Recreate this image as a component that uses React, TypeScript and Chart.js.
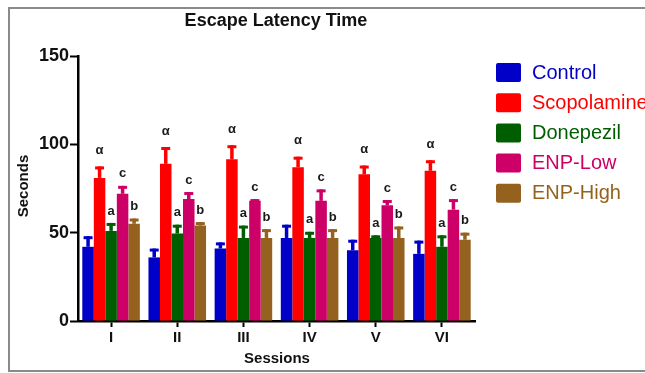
import { useEffect, useRef } from 'react';
import { Chart, registerables } from 'chart.js';

Chart.register(...registerables);

const sessions = ['I', 'II', 'III', 'IV', 'V', 'VI'];
const groups = ['Control', 'Scopolamine', 'Donepezil', 'ENP-Low', 'ENP-High'];
const groupColors = ['#0000C8', '#FF0000', '#005E00', '#CC0066', '#94621E'];

// Mean escape latency (s) and SEM per session
const controlMean = [42, 36, 41, 47, 40, 38];
const controlSem = [6, 5, 3.5, 7.5, 6, 7.5];
const scopolamineMean = [81, 89, 91.5, 87, 83, 85];
const scopolamineSem = [6.5, 9.5, 8, 6, 5, 6];
const donepezilMean = [51, 49.5, 47, 47, 47, 42];
const donepezilSem = [4.5, 5, 7, 3.5, 1.5, 6.5];
const enpLowMean = [72, 69, 68, 68, 65.5, 63];
const enpLowSem = [4.5, 4, 1, 6.5, 3, 6];
const enpHighMean = [55, 54, 47, 47, 47, 46];
const enpHighSem = [3, 2, 5, 5, 6.5, 4];

// Significance marks shown above each group's error bar
const significance = ['', 'α', 'a', 'c', 'b'];
const yTicks = [0, 50, 100, 150];

const means = [controlMean, scopolamineMean, donepezilMean, enpLowMean, enpHighMean];
const sems = [controlSem, scopolamineSem, donepezilSem, enpLowSem, enpHighSem];

const FONT = '"Liberation Sans", Arial, sans-serif';

const decorations = {
  id: 'decorations',
  beforeDraw(chart: any) {
    const { ctx } = chart;
    ctx.save();
    ctx.fillStyle = '#ffffff';
    ctx.fillRect(0, 0, chart.width, chart.height);
    // frame (open on the right)
    ctx.strokeStyle = '#8a8a8a';
    ctx.lineWidth = 2;
    ctx.beginPath();
    ctx.moveTo(chart.width + 2, 8);
    ctx.lineTo(9, 8);
    ctx.lineTo(9, 371);
    ctx.lineTo(chart.width + 2, 371);
    ctx.stroke();
    ctx.restore();
  },
  afterDatasetsDraw(chart: any) {
    const { ctx } = chart;
    const y = chart.scales.y;
    ctx.save();
    means.forEach((series, i) => {
      const meta = chart.getDatasetMeta(i);
      meta.data.forEach((bar: any, j: number) => {
        const top = y.getPixelForValue(series[j] + sems[i][j]);
        ctx.strokeStyle = groupColors[i];
        ctx.lineCap = 'butt';
        ctx.lineWidth = 3.5;
        ctx.beginPath();
        ctx.moveTo(bar.x, bar.y);
        ctx.lineTo(bar.x, top);
        ctx.stroke();
        ctx.lineWidth = 3;
        ctx.beginPath();
        ctx.moveTo(bar.x - 4.5, top + 1.5);
        ctx.lineTo(bar.x + 4.5, top + 1.5);
        ctx.stroke();
        const mark = significance[i];
        if (mark) {
          ctx.fillStyle = '#1a1a1a';
          ctx.font = `bold 13px ${FONT}`;
          ctx.textAlign = 'center';
          ctx.textBaseline = 'middle';
          ctx.fillText(mark, bar.x, top - (mark === 'α' ? 16 : 12));
        }
      });
    });
    ctx.restore();
  },
  afterDraw(chart: any) {
    const { ctx } = chart;
    ctx.save();
    ctx.fillStyle = '#111111';
    ctx.textAlign = 'center';
    ctx.textBaseline = 'middle';
    ctx.font = `bold 18px ${FONT}`;
    ctx.fillText('Escape Latency Time', 276, 21);
    ctx.font = `bold 15px ${FONT}`;
    ctx.fillText('Sessions', 277, 359);
    ctx.save();
    ctx.translate(24, 186);
    ctx.rotate(-Math.PI / 2);
    ctx.fillText('Seconds', 0, 0);
    ctx.restore();
    // legend
    groups.forEach((name, k) => {
      const top = 63 + k * 30.2;
      ctx.fillStyle = groupColors[k];
      ctx.beginPath();
      ctx.roundRect(496, top, 25, 19, 2);
      ctx.fill();
      ctx.font = `20px ${FONT}`;
      ctx.textAlign = 'left';
      ctx.textBaseline = 'middle';
      ctx.fillText(name, 532, top + 10);
    });
    ctx.restore();
  },
};

export default function App() {
  const ref = useRef<HTMLCanvasElement>(null);

  useEffect(() => {
    if (!ref.current) return;
    const chart = new Chart(ref.current, {
      type: 'bar',
      data: {
        labels: sessions,
        datasets: groups.map((name, i) => ({
          label: name,
          data: means[i],
          backgroundColor: groupColors[i],
          borderWidth: 0,
          categoryPercentage: 0.87,
          barPercentage: 1.0,
        })),
      },
      options: {
        responsive: false,
        animation: false,
        devicePixelRatio: 1,
        layout: { padding: { left: 0, right: 170, top: 56, bottom: 0 } },
        plugins: {
          legend: { display: false },
          title: { display: false },
          tooltip: { enabled: false },
        },
        scales: {
          x: {
            afterFit: (s: any) => {
              s.height = 52;
            },
            grid: {
              offset: false,
              drawOnChartArea: false,
              drawTicks: true,
              tickLength: 6,
              tickWidth: 2,
              tickColor: '#000',
            },
            border: { display: true, color: '#000', width: 2.5 },
            ticks: {
              color: '#111',
              padding: 2,
              font: { family: FONT, size: 15, weight: 'bold' },
            },
          },
          y: {
            min: 0,
            max: 150,
            afterFit: (s: any) => {
              s.width = 78;
            },
            afterBuildTicks: (s: any) => {
              s.ticks = yTicks.map((v) => ({ value: v }));
            },
            grid: {
              drawOnChartArea: false,
              drawTicks: true,
              tickLength: 8,
              tickWidth: 2,
              tickColor: '#000',
            },
            border: { display: true, color: '#000', width: 2.5 },
            ticks: {
              color: '#111',
              padding: 1,
              font: { family: FONT, size: 18, weight: 'bold' },
            },
          },
        },
      },
      plugins: [decorations],
    });
    return () => chart.destroy();
  }, []);

  return (
    <div style={{ position: 'fixed', left: 0, top: 0, width: 645, height: 373 }}>
      <canvas ref={ref} width={645} height={373} style={{ display: 'block' }} />
    </div>
  );
}
